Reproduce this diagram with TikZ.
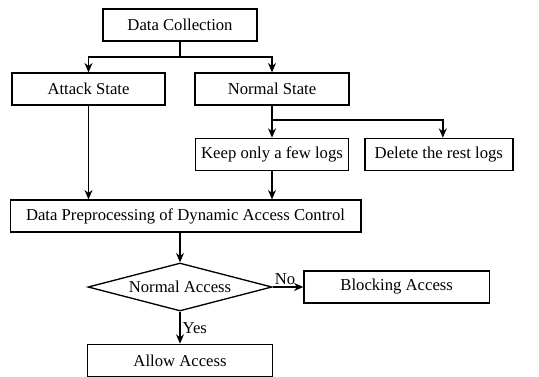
\documentclass[tikz,border=0pt]{standalone}
\usepackage{fontspec}
\setmainfont{Liberation Serif}
\usetikzlibrary{arrows.meta,positioning,shapes.geometric}
\tikzset{
  blk/.style      = {draw, line width=1pt, align=center, inner sep=2pt,
                     font=\fontsize{12.5}{15}\selectfont,
                     minimum height=24pt},
  decision/.style = {draw, line width=1pt, diamond, aspect=3.8, inner sep=0pt,
                     font=\fontsize{12.5}{15}\selectfont,
                     minimum width=138pt, minimum height=36pt},
  conn/.style     = {-{Stealth[length=7pt,width=6pt]}, line width=1pt},
  line/.style     = {line width=1pt},
  lbl/.style      = {font=\fontsize{12.5}{15}\selectfont, inner sep=1.5pt},
}

\begin{document}
\begin{tikzpicture}[x=0.75pt,y=-0.75pt]
  \useasboundingbox (0,0) rectangle (539,376);

  % Collection and states
  \node[blk, minimum width=115.5pt] (dc) at (180,25) {Data Collection};
  \node[blk, minimum width=114.75pt] (attack) at (88.5,89) {Attack State};
  \node[blk, minimum width=115.5pt] (normal) at (272,89) {Normal State};
  \coordinate (split1) at (180,57);
  \draw[line] (dc.south) -- (split1);
  \draw[conn] (split1) -| (attack.north);
  \draw[conn] (split1) -| (normal.north);

  % Logs
  \node[blk, below=24pt of normal, minimum width=114.75pt] (keep) {Keep only a few logs};
  \node[blk, right=11.25pt of keep, minimum width=111pt] (del) {Delete the rest logs};
  \coordinate (split2) at (272,120);
  \draw[line] (normal.south) -- (split2);
  \draw[conn] (split2) -| (keep.north);
  \draw[conn] (split2) -| ([xshift=3pt]del.north);

  % Preprocessing
  \node[blk, minimum width=263pt] (dp) at (185.5,216) {Data Preprocessing of Dynamic Access Control};
  \draw[conn] (attack.south) -- (attack.south |- dp.north);
  \draw[conn] (keep.south) -- (keep.south |- dp.north);

  % Decision
  \node[decision] (acc) at (180,287) {Normal Access};
  \node[blk, right=23pt of acc, minimum width=139pt] (block) {Blocking Access};
  \node[blk, below=24pt of acc, minimum width=139pt] (allow) {Allow Access};
  \draw[conn] (acc.north |- dp.south) -- (acc.north);
  \draw[conn] (acc.east) -- node[lbl, above, pos=0.4] {No} (block.west);
  \draw[conn] (acc.south) -- node[lbl, right, pos=0.5] {Yes} (allow.north);
\end{tikzpicture}
\end{document}
